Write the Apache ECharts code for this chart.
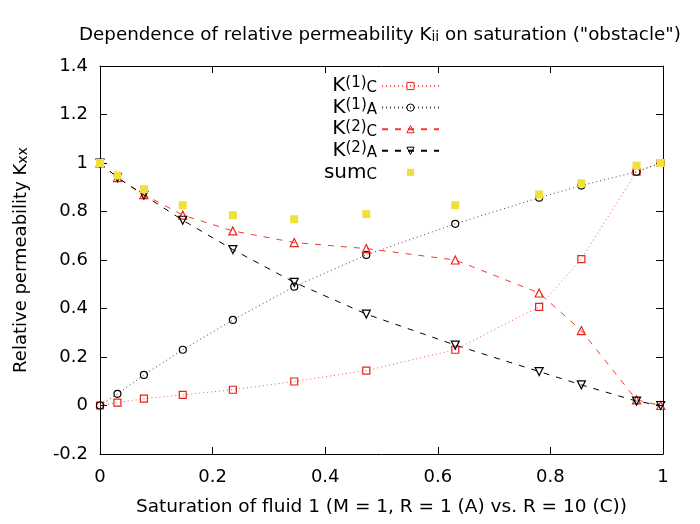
<!DOCTYPE html>
<html lang="en">
<head>
    <meta charset="UTF-8">
    <title>Relative permeability</title>
    <script src="https://cdn.jsdelivr.net/npm/echarts@6/dist/echarts.min.js"></script>
    <style>
        html, body { margin: 0; padding: 0; background: #fff; }
        #main { width: 700px; height: 524px; }
    </style>
</head>
<body>
<div id="main"></div>
<script type="text/javascript">
    // saturation values (x) and the curves
    var satX = [0, 0.031, 0.078, 0.147, 0.236, 0.345, 0.473, 0.631, 0.780, 0.855, 0.953, 0.996];
    var k1C  = [0, 0.012, 0.028, 0.044, 0.065, 0.099, 0.144, 0.230, 0.407, 0.604, 0.964, 1.0];
    var k1A  = [0, 0.048, 0.126, 0.230, 0.353, 0.490, 0.621, 0.749, 0.857, 0.907, 0.964, 1.0];
    var k2C  = [1.0, 0.940, 0.870, 0.785, 0.720, 0.672, 0.647, 0.600, 0.464, 0.309, 0.023, 0];
    var k2A  = [1.0, 0.940, 0.867, 0.764, 0.643, 0.508, 0.377, 0.249, 0.140, 0.085, 0.018, 0];
    var sumC = [1.0, 0.949, 0.892, 0.826, 0.785, 0.768, 0.789, 0.826, 0.870, 0.916, 0.989, 1.0];

    // legend labels (rich text: base, superscript, subscript)
    var legendNames = {
        K1C: '{b|K}{p|(1)}{s|C}',
        K1A: '{b|K}{p|(1)}{s|A}',
        K2C: '{b|K}{p|(2)}{s|C}',
        K2A: '{b|K}{p|(2)}{s|A}',
        sumC: '{b|sum}{s|C}'
    };

    function pairs(ys) {
        var out = [];
        for (var i = 0; i < satX.length; i++) {
            out.push([satX[i], ys[i]]);
        }
        return out;
    }

    var FONT = 'DejaVu Sans';
    var myChart = echarts.init(document.getElementById('main'));

    // box axes: ticks point inwards on all four sides
    var axisCommon = {
        type: 'value',
        interval: 0.2,
        axisLine: { show: true, onZero: false, lineStyle: { color: '#000', width: 1 } },
        axisTick: { show: true, inside: true, length: 7, lineStyle: { color: '#000', width: 1 } },
        splitLine: { show: false }
    };

    var option = {
        backgroundColor: '#fff',
        animation: false,
        title: {
            text: 'Dependence of relative permeability K{s|ii} on saturation ("obstacle")',
            left: 79,
            top: 26,
            padding: 0,
            textStyle: {
                fontFamily: FONT, fontSize: 18.3, fontWeight: 'normal', color: '#000',
                rich: {
                    s: { fontFamily: FONT, fontSize: 14, verticalAlign: 'bottom', lineHeight: 6 }
                }
            }
        },
        grid: { left: 100, right: 37, top: 66, bottom: 70 },
        legend: {
            orient: 'vertical',
            align: 'right',
            right: 260,
            top: 76,
            padding: 0,
            itemWidth: 57,
            itemHeight: 9,
            itemGap: 1.6,
            selectedMode: false,
            itemStyle: { borderWidth: 1 },
            data: ['K1C', 'K1A', 'K2C', 'K2A', 'sumC'],
            formatter: function (name) { return legendNames[name]; },
            textStyle: {
                fontFamily: FONT, color: '#000',
                rich: {
                    b: { fontFamily: FONT, fontSize: 20, lineHeight: 20, verticalAlign: 'middle' },
                    p: { fontFamily: FONT, fontSize: 15, lineHeight: 12, verticalAlign: 'top' },
                    s: { fontFamily: FONT, fontSize: 15, lineHeight: 6, verticalAlign: 'bottom' }
                }
            }
        },
        xAxis: [
            Object.assign({}, axisCommon, {
                min: 0, max: 1, position: 'bottom',
                name: 'Saturation of fluid 1 (M = 1, R = 1 (A) vs. R = 10 (C))',
                nameLocation: 'middle',
                nameGap: 44,
                nameTextStyle: { fontFamily: FONT, fontSize: 18.5, color: '#000' },
                axisLabel: { fontFamily: FONT, fontSize: 18, color: '#000', margin: 14 }
            }),
            Object.assign({}, axisCommon, {
                min: 0, max: 1, position: 'top',
                axisLabel: { show: false }
            })
        ],
        yAxis: [
            Object.assign({}, axisCommon, {
                min: -0.2, max: 1.4, position: 'left',
                name: 'Relative permeability K{s|xx}',
                nameLocation: 'middle',
                nameGap: 70,
                nameRotate: 90,
                nameTextStyle: {
                    fontFamily: FONT, fontSize: 18, color: '#000',
                    rich: { s: { fontFamily: FONT, fontSize: 14, verticalAlign: 'bottom', lineHeight: 12 } }
                },
                axisLabel: { fontFamily: FONT, fontSize: 18, color: '#000', margin: 12 }
            }),
            Object.assign({}, axisCommon, {
                min: -0.2, max: 1.4, position: 'right',
                axisLabel: { show: false }
            })
        ],
        series: [
            {
                name: 'K1C', type: 'line', data: pairs(k1C),
                symbol: 'rect', symbolSize: 7,
                itemStyle: { color: 'transparent', borderColor: '#e8231a', borderWidth: 1.2 },
                lineStyle: { color: '#f05a50', width: 1, type: [1, 3] }
            },
            {
                name: 'K1A', type: 'line', data: pairs(k1A),
                symbol: 'circle', symbolSize: 7,
                itemStyle: { color: 'transparent', borderColor: '#000', borderWidth: 1.2 },
                lineStyle: { color: '#444', width: 1, type: [1, 3] }
            },
            {
                name: 'K2C', type: 'line', data: pairs(k2C),
                symbol: 'triangle', symbolSize: 8,
                itemStyle: { color: 'transparent', borderColor: '#e8231a', borderWidth: 1.2 },
                lineStyle: { color: '#f03a30', width: 1, type: [6, 7] }
            },
            {
                name: 'K2A', type: 'line', data: pairs(k2A),
                symbol: 'triangle', symbolRotate: 180, symbolSize: 8,
                itemStyle: { color: 'transparent', borderColor: '#000', borderWidth: 1.2 },
                lineStyle: { color: '#000', width: 1, type: [6, 7] }
            },
            {
                name: 'sumC', type: 'line', data: pairs(sumC),
                symbol: 'rect', symbolSize: 8,
                itemStyle: { color: '#efe03c' },
                lineStyle: { width: 0, opacity: 0 }
            }
        ]
    };

    myChart.setOption(option);
</script>
</body>
</html>
